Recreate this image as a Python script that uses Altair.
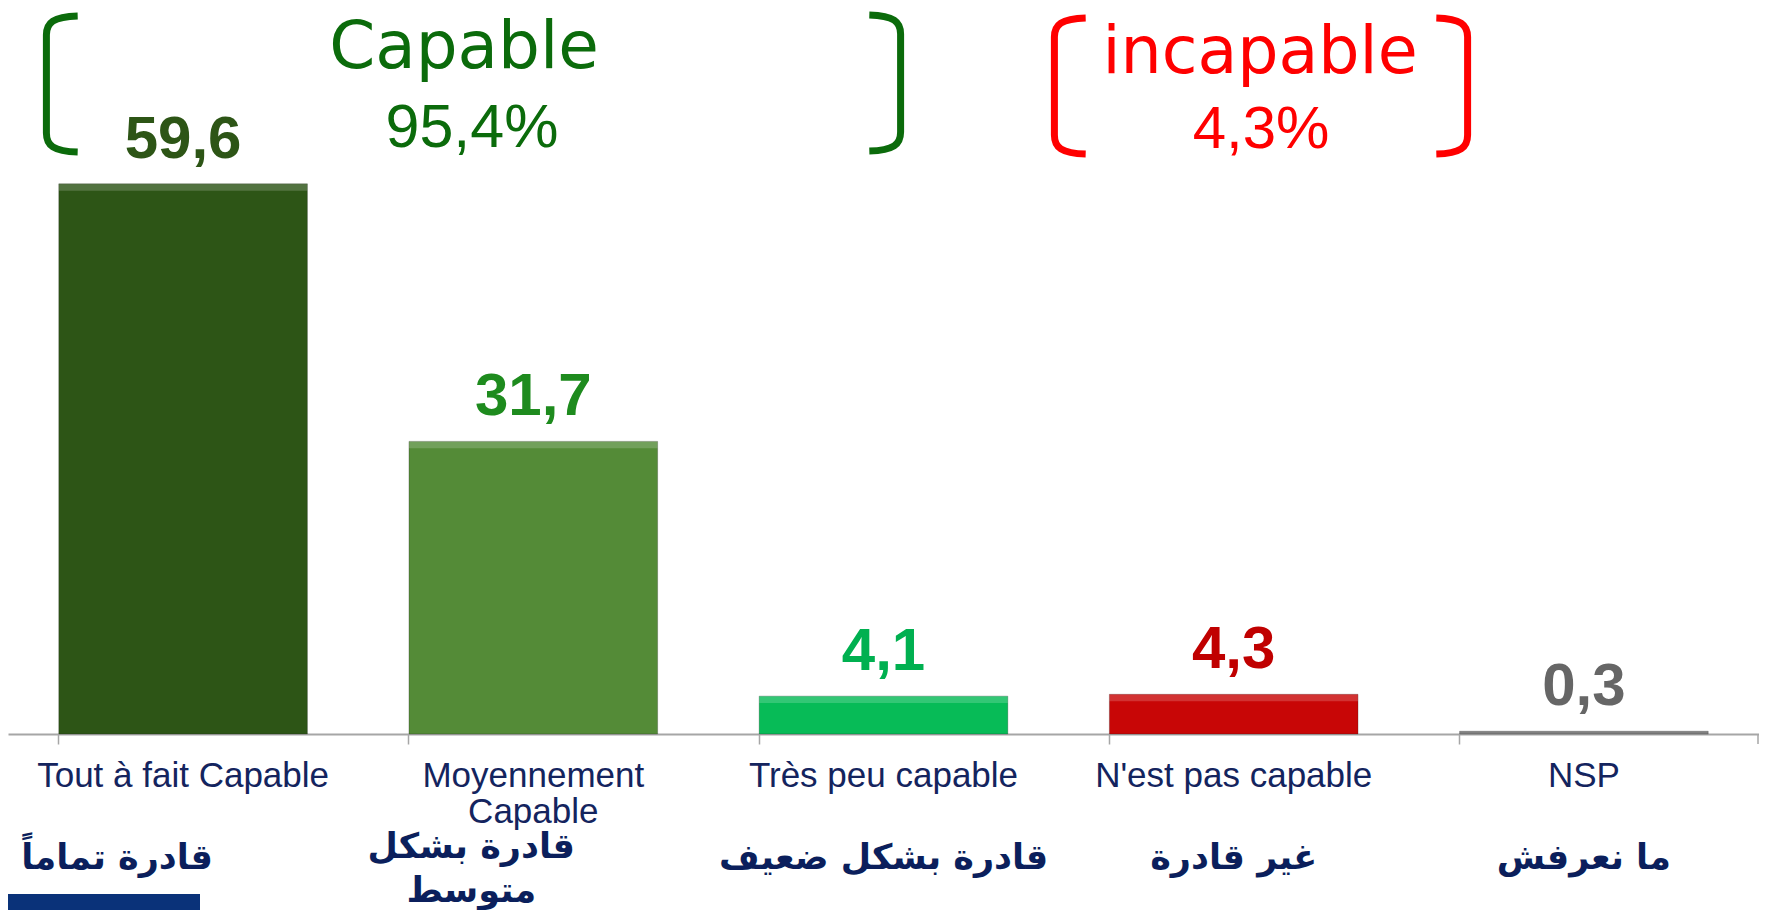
import altair as alt
import pandas as pd

categories = ["Tout à fait Capable", "Moyennement Capable", "Très peu capable",
              "N'est pas capable", "NSP"]
values = [59.6, 31.7, 4.1, 4.3, 0.3]
value_labels = ["59,6", "31,7", "4,1", "4,3", "0,3"]
arabic = ["قادرة تماماً", "قادرة بشكل\nمتوسط", "قادرة بشكل ضعيف", "غير قادرة", "ما نعرفش"]
bar_colors = ["#2D5516", "#548B37", "#07BB57", "#C80606", "#808080"]
label_colors = ["#2D5516", "#1E8B1E", "#00B050", "#C00000", "#666666"]

W, H = 1751, 726
df = pd.DataFrame({"cat": categories, "v": values, "lab": value_labels, "ar": arabic,
                   "idx": list(range(5))})

xenc = alt.X("cat:N", sort=categories,
             scale=alt.Scale(paddingInner=0.29, paddingOuter=0.145),
             axis=alt.Axis(title=None, labelAngle=0, bandPosition=0, tickSize=10,
                           tickWidth=1.5, tickColor="#A6A6A6", domainColor="#A6A6A6",
                           domainWidth=2, labelFont="Liberation Sans", labelFontSize=35,
                           labelColor="#14245E", labelBaseline="alphabetic", labelPadding=42,
                           labelLimit=0, labelLineHeight=36, grid=False,
                           labelExpr="datum.label == 'Moyennement Capable' ? ['Moyennement', 'Capable'] : datum.label"))
yscale = alt.Scale(domain=[0, 78.65], nice=False, zero=True)
yenc = alt.Y("v:Q", scale=yscale, axis=None)

base = alt.Chart(df)

bars = base.mark_bar(stroke="#1a1a1a", strokeOpacity=0.25, strokeWidth=1).encode(
    x=xenc, y=yenc,
    fill=alt.Fill("cat:N", sort=categories,
                  scale=alt.Scale(domain=categories, range=bar_colors), legend=None))

hl = base.transform_filter("datum.v > 1").transform_calculate(
    top="datum.v", bot="datum.v - 0.75").mark_bar(color="white", opacity=0.18).encode(
    x=alt.X("cat:N", sort=categories), y=alt.Y("top:Q", scale=yscale, axis=None),
    y2="bot:Q")

vlabels = base.mark_text(font="Liberation Sans Narrow, Liberation Sans", fontSize=60,
                         fontWeight="bold", baseline="alphabetic", dy=-26).encode(
    x=alt.X("cat:N", sort=categories), y=yenc, text="lab:N",
    color=alt.Color("lab:N", sort=value_labels,
                    scale=alt.Scale(domain=value_labels, range=label_colors), legend=None))

ar_font = dict(font="DejaVu Sans", fontSize=35, fontWeight="bold", color="#0B1F5C",
               baseline="middle", lineBreak="\n", lineHeight=44)
ar_first = base.transform_filter("datum.idx == 0").mark_text(dx=-66, **ar_font).encode(
    x=alt.X("cat:N", sort=categories), y=alt.value(850), text="ar:N")
ar_second = base.transform_filter("datum.idx == 1").mark_text(dx=-62, **ar_font).encode(
    x=alt.X("cat:N", sort=categories), y=alt.value(839), text="ar:N")
ar_rest = base.transform_filter("datum.idx >= 2").mark_text(**ar_font).encode(
    x=alt.X("cat:N", sort=categories), y=alt.value(850), text="ar:N")

end_tick = alt.Chart(df.head(1)).mark_rule(color="#A6A6A6", strokeWidth=1.5).encode(
    x=alt.value(W - 1), y=alt.value(H), y2=alt.value(H + 10))

ann_cap = alt.Chart(df.head(1)).mark_text(font="DejaVu Sans", fontSize=66,
                                          color="#0B6B0B", baseline="alphabetic").encode(
    x=alt.value(456), y=alt.value(60), text=alt.value("Capable"))
ann_cap_p = alt.Chart(df.head(1)).mark_text(font="Liberation Sans", fontSize=61,
                                            color="#0B6B0B", baseline="alphabetic").encode(
    x=alt.value(464), y=alt.value(139), text=alt.value("95,4%"))
ann_inc = alt.Chart(df.head(1)).mark_text(font="DejaVu Sans", fontSize=65,
                                          color="#FF0000", baseline="alphabetic").encode(
    x=alt.value(1252), y=alt.value(65), text=alt.value("incapable"))
ann_inc_p = alt.Chart(df.head(1)).mark_text(font="Liberation Sans", fontSize=60,
                                            color="#FF0000", baseline="alphabetic").encode(
    x=alt.value(1253), y=alt.value(140), text=alt.value("4,3%"))

LB = "M 0.26 -1 C -0.1 -0.99 -0.2 -0.9 -0.2 -0.72 L -0.2 0.72 C -0.2 0.9 -0.1 0.99 0.26 1"
RB = "M -0.26 -1 C 0.1 -0.99 0.2 -0.9 0.2 -0.72 L 0.2 0.72 C 0.2 0.9 0.1 0.99 -0.26 1"

def bracket(shape, x, y, col):
    return alt.Chart(df.head(1)).mark_point(shape=shape, size=136 * 136, filled=False,
                                            stroke=col, strokeWidth=7, opacity=1).encode(
        x=alt.value(x), y=alt.value(y))

br = [bracket(LB, 52, 76, "#0B6B0B"), bracket(RB, 879, 75, "#0B6B0B"),
      bracket(LB, 1060, 78, "#FF0000"), bracket(RB, 1446, 78, "#FF0000")]

footer = alt.Chart(df.head(1)).mark_rect(color="#0A3279").encode(
    x=alt.value(0), x2=alt.value(192), y=alt.value(886), y2=alt.value(902))

chart = alt.layer(bars, hl, vlabels, ar_first, ar_second, ar_rest, end_tick, ann_cap,
                  ann_cap_p, ann_inc, ann_inc_p, *br, footer).properties(
    width=W, height=H, background="white",
    autosize=alt.AutoSizeParams(type="none"),
    padding={"left": 0, "top": 0, "right": 0, "bottom": 176}
).configure_view(stroke="transparent", strokeWidth=0)

chart.save("out.html", embed_options={"renderer": "svg", "actions": False})
